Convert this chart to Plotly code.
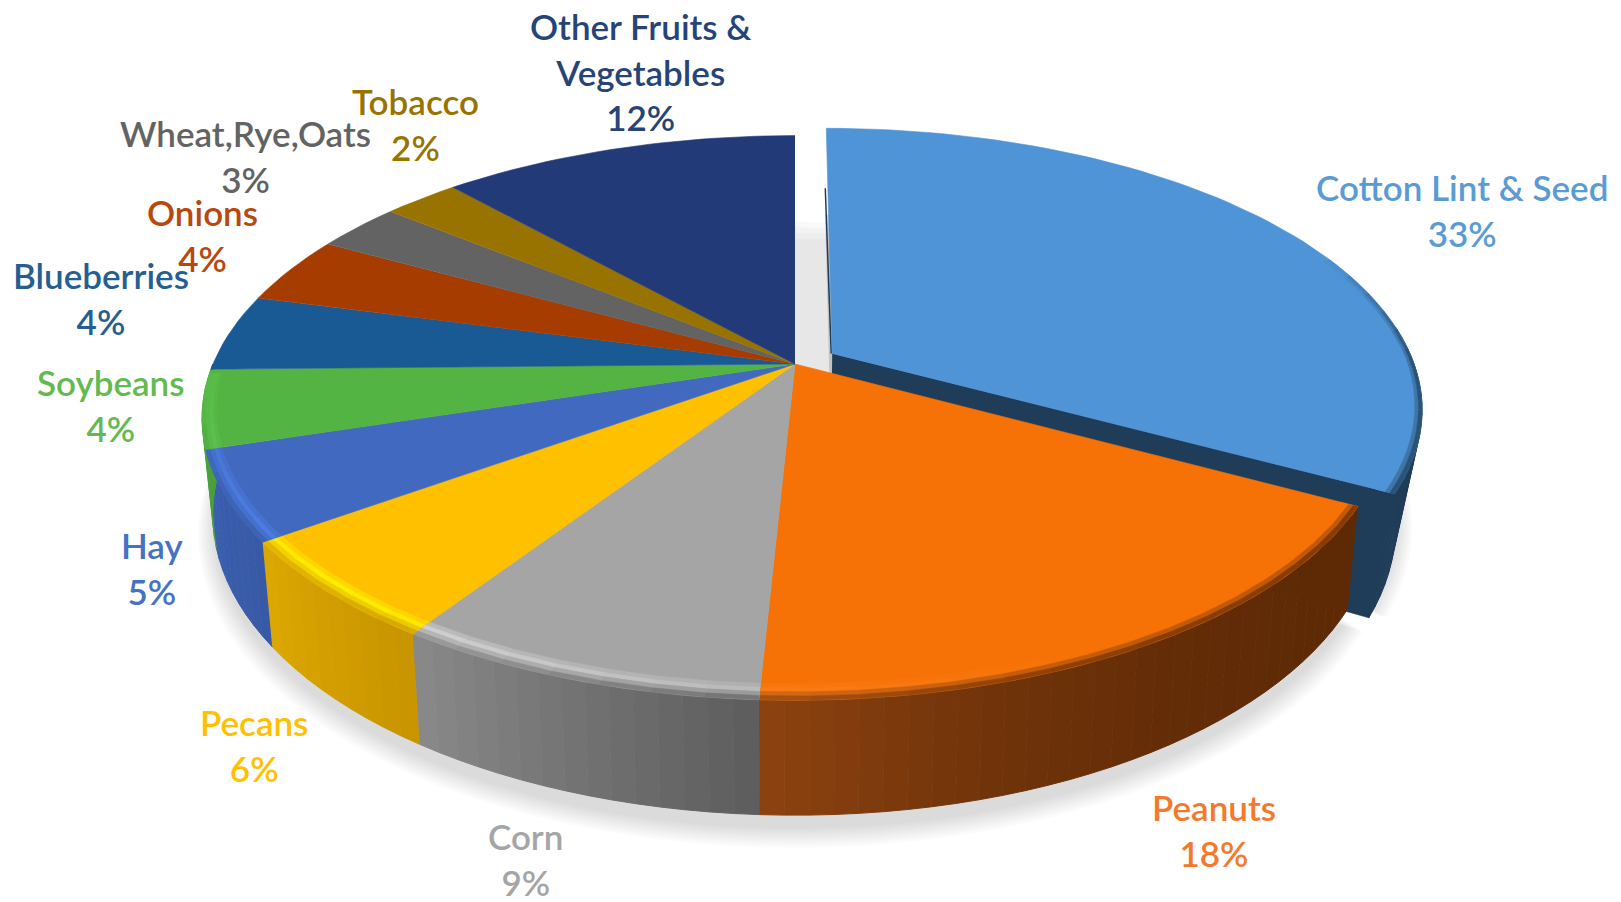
import numpy as np
import plotly.graph_objects as go

# ---- data ----
categories = ["Cotton Lint & Seed", "Peanuts", "Corn", "Pecans", "Hay", "Soybeans",
              "Blueberries", "Onions", "Wheat,Rye,Oats", "Tobacco", "Other Fruits &<br>Vegetables"]
values = [32.9, 17.9, 8.51, 5.8, 5.1, 4.49, 4.4, 3.9, 2.8, 2.49, 11.71]
pull = [0.075, 0, 0, 0, 0, 0, 0, 0, 0, 0, 0]

# ---- styling ----
top_colors = ["#4F94D6", "#F67207", "#A5A5A5", "#FFC000", "#4169C0", "#53B343",
              "#1A5A94", "#A63C00", "#636363", "#997300", "#223B78"]
rim_colors = ["#4F94D6", "#FF8A30", "#D8D8D8", "#FFEE00", "#4F80E8", "#62CC52",
              "#1A5A94", "#A63C00", "#636363", "#997300", "#223B78"]
wall_left = ["#1F3D58", "#8E4310", "#8A8A8A", "#DCA800", "#3A5FB0", "#4AA03C",
             "#174E80", "#8A3200", "#505050", "#7F6000", "#1C3060"]
wall_right = ["#1F3D58", "#5E2A06", "#5C5C5C", "#C89400", "#385AA5", "#4AA03C",
              "#174E80", "#8A3200", "#505050", "#7F6000", "#1C3060"]
wall_power = [1, 2.6, 1, 1, 1, 1, 1, 1, 1, 1, 1]
wall_depth = [1.22, 1, 1, 1, 1, 1, 1, 1, 1, 1, 1]
wall_lean = [0.035, 0.018, 0.018, 0.018, 0.018, 0.018, 0.018, 0.018, 0.018, 0.018, 0.018]
label_colors = ["#5B9BD5", "#F4792B", "#A5A5A5", "#FFC000", "#4472C4", "#62BA50",
                "#255E91", "#B8480E", "#636363", "#997300", "#264478"]
label_x = [1462, 1214, 525, 254, 152, 111, 101, 202, 245, 415, 640]
label_y = [210, 830, 859, 745, 568, 405, 298, 235, 156, 124, 71]

CX, CY, A, B, K, H = 795, 364, 582, 272, 0.191, 93
BEVEL = 0.04


def project(theta, r, dx=0.0, dy=0.0, z=0.0, lean=0.018):
    x = r * np.sin(theta) + dx
    y = r * np.cos(theta) + dy
    s = 1.0 / (1.0 + K * y)
    return CX + A * x * s * (1 - lean * z), CY - B * y * s + H * z * s


def mix(c1, c2, t):
    a = [int(c1[i:i + 2], 16) for i in (1, 3, 5)]
    b = [int(c2[i:i + 2], 16) for i in (1, 3, 5)]
    return "#%02X%02X%02X" % tuple(round(p + (q - p) * t) for p, q in zip(a, b))


fig = go.Figure()


def poly(xs, ys, color, name=None, line=0.6):
    fig.add_trace(go.Scatter(x=list(xs), y=list(ys), mode="lines", fill="toself",
                             fillcolor=color, line=dict(color=color, width=line),
                             hoverinfo="text" if name else "skip", text=name,
                             showlegend=False))


total = sum(values)
edges = np.cumsum([0] + values) / total * 2 * np.pi
mid = (edges[:-1] + edges[1:]) / 2
off_x = [p * np.sin(m) for p, m in zip(pull, mid)]
off_y = [p * np.cos(m) for p, m in zip(pull, mid)]

# faint disc, seen only through the gap of the exploded slice
t_all = np.linspace(0, 2 * np.pi, 200)
for zz in (0.84, 0.91, 0.98, 1.05):
    xs, ys = project(t_all, 0.9, z=zz)
    poly(xs, ys, "rgba(0,0,0,0.024)", line=0)

# soft shadow: the footprint of the pie, widening in faint layers
for grow in np.linspace(0.05, 0.0, 9):
    for i in range(2):
        if i == 0:
            t = np.linspace(edges[0], edges[1], 60)
            dx, dy = off_x[0], off_y[0]
            ln = wall_lean[0]
        else:
            t = np.linspace(edges[1], edges[-1], 160)
            dx, dy = 0, 0
            ln = wall_lean[1]
        xs, ys = project(t, 1.0 + grow * 0.55, dx, dy, z=1.12 + grow * 1.1, lean=ln)
        cx0, cy0 = project(np.array([0.0]), 0.0, dx, dy, z=1.15)
        poly(np.r_[cx0, xs], np.r_[cy0, ys], "rgba(0,0,0,0.015)", line=0)

# walls of all slices first, so that no wall can cover a neighbour's top
for i in range(len(values)):
    a0, a1 = edges[i], edges[i + 1]
    dx, dy = off_x[i], off_y[i]
    depth, ln = wall_depth[i], wall_lean[i]
    if pull[i] > 0:
        tip = np.array([a1])
        xv, yv = project(tip, 0.0, dx, dy)
        xe, ye = project(tip, 1.0, dx, dy)
        xv2, yv2 = project(tip, 0.0, dx, dy, z=depth, lean=ln)
        xe2, ye2 = project(tip, 1.0, dx, dy, z=depth, lean=ln)
        poly([xv[0], xe[0], xe2[0], xv2[0]], [yv[0], ye[0], ye2[0], yv2[0]], wall_right[i])
    lo, hi = max(a0, np.pi / 2 - 0.1), min(a1, 3 * np.pi / 2)
    if hi > lo:
        n = max(2, int((hi - lo) / np.radians(2)))
        cuts = np.linspace(lo, hi, n + 1)
        for j in range(n):
            t = np.linspace(cuts[j], cuts[j + 1], 3)
            xs, ys = project(t, 1.0, dx, dy)
            xb, yb = project(t[::-1], 1.0, dx, dy, z=depth, lean=ln)
            f = ((j + 0.5) / n) ** wall_power[i]
            poly(np.r_[xs, xb], np.r_[ys, yb], mix(wall_right[i], wall_left[i], f), line=1)

# thin dark edge along the left side of the exploded slice
for i in range(len(values)):
    if pull[i] > 0:
        t0 = np.array([edges[i]])
        xa, ya = project(t0, 0.0, off_x[i], off_y[i])
        xb, yb = project(t0, 1.0, off_x[i], off_y[i])
        fig.add_trace(go.Scatter(x=[xa[0] - 1, xb[0] - 1], y=[ya[0], yb[0] + 60], mode="lines",
                                 line=dict(color=wall_right[i], width=1.5),
                                 hoverinfo="skip", showlegend=False))

# tops and rims
for i in range(len(values)):
    a0, a1 = edges[i], edges[i + 1]
    dx, dy = off_x[i], off_y[i]
    t = np.linspace(a0, a1, max(6, int((a1 - a0) / np.radians(1.5))))
    xs, ys = project(t, 1.0, dx, dy)
    x0, y0 = project(np.array([0.0]), 0.0, dx, dy)
    poly(np.r_[x0, xs], np.r_[y0, ys], top_colors[i], name=f"{categories[i]}: {values[i]:.0f}%")
    lo2, hi2 = max(a0, np.radians(68)), min(a1, np.radians(268))
    if hi2 > lo2:
        n = max(2, int((hi2 - lo2) / np.radians(4)))
        cuts = np.linspace(lo2, hi2, n + 1)
        for j in range(n):
            am = (cuts[j] + cuts[j + 1]) / 2
            deg = np.degrees(am)
            strength = np.clip(1 - abs(deg - 225) / 70, 0, 1)
            fade = np.clip((deg - 68) / 22, 0, 1) * np.clip((268 - deg) / 20, 0, 1)
            wall_c = mix(wall_right[i], wall_left[i], ((am - lo2) / (hi2 - lo2)) ** wall_power[i])
            hi_c = mix(top_colors[i], rim_colors[i], strength)
            steps = [mix(top_colors[i], hi_c, 0.5),
                     hi_c,
                     mix(hi_c, wall_c, 0.35 * fade),
                     mix(hi_c, wall_c, 0.75 * fade)]
            t = np.linspace(cuts[j], cuts[j + 1], 3)
            width = BEVEL * (0.5 + 0.5 * np.abs(np.cos(t)))
            for k in range(4):
                ra = 1 - width * (1 - k / 4)
                rb = 1 - width * (1 - (k + 1) / 4)
                xa, ya = project(t, ra, dx, dy)
                xb, yb = project(t[::-1], rb[::-1], dx, dy)
                poly(np.r_[xa, xb], np.r_[ya, yb], steps[k], line=0.5)

# data labels
for name, v, c, lx, ly in zip(categories, values, label_colors, label_x, label_y):
    fig.add_annotation(x=lx, y=ly, text=f"{name}<br>{v:.0f}%", showarrow=False,
                       xanchor="center", yanchor="middle", align="center",
                       font=dict(family="Lato", size=35, color=c, weight=600))

fig.update_layout(width=1621, height=902, margin=dict(l=0, r=0, t=0, b=0),
                  paper_bgcolor="white", plot_bgcolor="white", showlegend=False,
                  xaxis=dict(range=[0, 1621], visible=False, fixedrange=True),
                  yaxis=dict(range=[902, 0], visible=False, fixedrange=True))

fig.write_html("out.html", config={"displayModeBar": False},
               post_script="document.body.style.margin='0';document.body.style.overflow='hidden';")
